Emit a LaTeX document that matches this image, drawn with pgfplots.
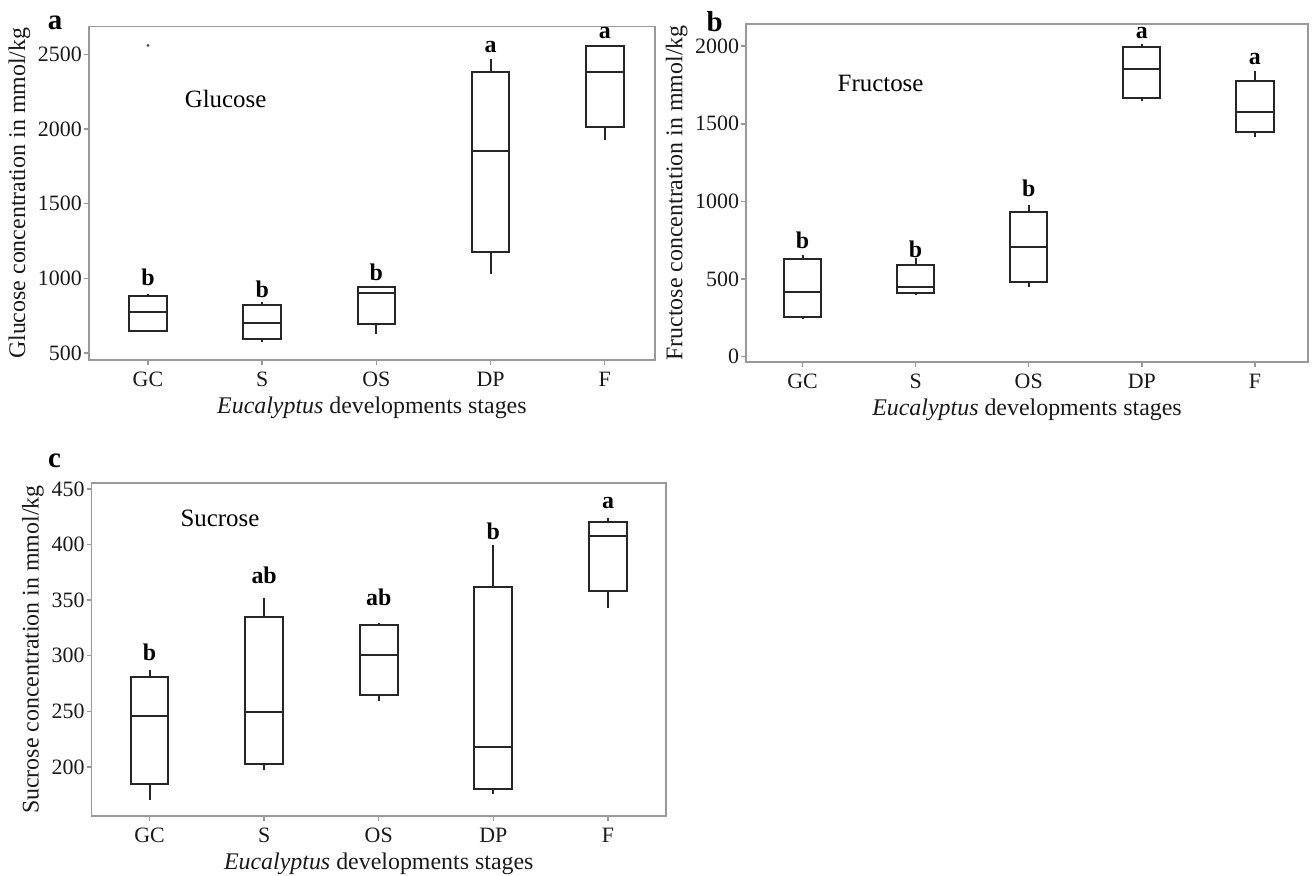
\documentclass[border=0pt]{standalone}
\usepackage{fontspec}
\setmainfont{Liberation Serif}
\usepackage{pgfplots}
\pgfplotsset{compat=1.18}
\usepgfplotslibrary{statistics}

\pgfplotsset{
  panel/.style={
    scale only axis,
    axis line style={draw=gray!80, line width=0.8bp},
    tick style={draw=gray!80, line width=0.7bp},
    tick align=outside,
    major tick length=2.5bp,
    tick pos=left,
    xtick={0,1,2,3,4},
    xticklabels={GC,S,OS,DP,F},
    tick label style={font=\fontsize{11}{13}\selectfont, text=black!90},
    yticklabel style={xshift=2.5bp},
    label style={font=\fontsize{12}{14}\selectfont, text=black!90},
    xlabel={\textit{Eucalyptus} developments stages},
    ylabel shift=-3bp,
    xlabel shift=-2bp,
    /pgf/number format/assume math mode=true,
    /pgf/number format/1000 sep={},
    boxplot/draw direction=y,
    clip=false,
  },
  bx/.style={draw=black!85, line width=1bp, solid, fill=none},
}
\tikzset{
  lt/.style={font=\fontsize{12}{14}\bfseries, text=black},
  tt/.style={font=\fontsize{12.5}{14}\selectfont, text=black},
}

\begin{document}
\begin{tikzpicture}[x=1bp,y=1bp]
\path[use as bounding box] (0,0) rectangle (657,438);

% ---------------- panel a ----------------
\begin{axis}[panel,
  at={(44.4bp,258bp)}, anchor=south west,
  width=283.1bp, height=166.75bp,
  xmin=-0.518, xmax=4.44, ymin=453, ymax=2688,
  ytick={500,1000,1500,2000,2500},
  ylabel={Glucose concentration in mmol/kg}]
\addplot[bx, boxplot prepared={draw position=0, lower whisker=638, lower quartile=649, median=772, upper quartile=884, upper whisker=893, box extend=0.33, whisker extend=0}] coordinates {};
\addplot[bx, boxplot prepared={draw position=1, lower whisker=574, lower quartile=594, median=698, upper quartile=822, upper whisker=844, box extend=0.33, whisker extend=0}] coordinates {};
\addplot[bx, boxplot prepared={draw position=2, lower whisker=627, lower quartile=696, median=902, upper quartile=942, upper whisker=942, box extend=0.33, whisker extend=0}] coordinates {};
\addplot[bx, boxplot prepared={draw position=3, lower whisker=1031, lower quartile=1177, median=1853, upper quartile=2380, upper whisker=2470, box extend=0.33, whisker extend=0}] coordinates {};
\addplot[bx, boxplot prepared={draw position=4, lower whisker=1929, lower quartile=2014, median=2380, upper quartile=2559, upper whisker=2559, box extend=0.33, whisker extend=0}] coordinates {};
\addplot[only marks, mark=*, mark size=0.5bp, black!70] coordinates {(0,2561)};
\node[lt] at (axis cs:0,1010) {b};
\node[lt] at (axis cs:1,924) {b};
\node[lt] at (axis cs:2,1038) {b};
\node[lt] at (axis cs:3,2549) {a};
\node[lt] at (axis cs:4,2646) {a};
\node[tt] at (axis cs:0.68,2204) {Glucose};
\end{axis}

% ---------------- panel b ----------------
\begin{axis}[panel,
  at={(373bp,257bp)}, anchor=south west,
  width=281bp, height=169bp,
  xmin=-0.50, xmax=4.47, ymin=-34, ymax=2143,
  ytick={0,500,1000,1500,2000},
  ylabel={Fructose concentration in mmol/kg}]
\addplot[bx, boxplot prepared={draw position=0, lower whisker=241, lower quartile=254, median=417, upper quartile=627, upper whisker=655, box extend=0.33, whisker extend=0}] coordinates {};
\addplot[bx, boxplot prepared={draw position=1, lower whisker=395, lower quartile=408, median=447, upper quartile=589, upper whisker=638, box extend=0.33, whisker extend=0}] coordinates {};
\addplot[bx, boxplot prepared={draw position=2, lower whisker=447, lower quartile=479, median=707, upper quartile=934, upper whisker=979, box extend=0.33, whisker extend=0}] coordinates {};
\addplot[bx, boxplot prepared={draw position=3, lower whisker=1645, lower quartile=1667, median=1856, upper quartile=1997, upper whisker=2015, box extend=0.33, whisker extend=0}] coordinates {};
\addplot[bx, boxplot prepared={draw position=4, lower whisker=1414, lower quartile=1446, median=1575, upper quartile=1774, upper whisker=1839, box extend=0.33, whisker extend=0}] coordinates {};
\node[lt] at (axis cs:0,747) {b};
\node[lt] at (axis cs:1,692) {b};
\node[lt] at (axis cs:2,1085) {b};
\node[lt] at (axis cs:3,2084) {a};
\node[lt] at (axis cs:4,1916) {a};
\node[tt] at (axis cs:0.69,1757) {Fructose};
\end{axis}

% ---------------- panel c ----------------
\begin{axis}[panel,
  at={(45.75bp,30bp)}, anchor=south west,
  width=287.25bp, height=166.35bp,
  xmin=-0.506, xmax=4.506, ymin=156, ymax=455,
  ytick={200,250,300,350,400,450},
  ylabel={Sucrose concentration in mmol/kg}]
\addplot[bx, boxplot prepared={draw position=0, lower whisker=170.6, lower quartile=185, median=245.9, upper quartile=281, upper whisker=287.5, box extend=0.33, whisker extend=0}] coordinates {};
\addplot[bx, boxplot prepared={draw position=1, lower whisker=197.6, lower quartile=202.7, median=249.2, upper quartile=335.2, upper whisker=352, box extend=0.33, whisker extend=0}] coordinates {};
\addplot[bx, boxplot prepared={draw position=2, lower whisker=259, lower quartile=264.8, median=301, upper quartile=327.4, upper whisker=329, box extend=0.33, whisker extend=0}] coordinates {};
\addplot[bx, boxplot prepared={draw position=3, lower whisker=176, lower quartile=180.2, median=218, upper quartile=361.6, upper whisker=399.7, box extend=0.33, whisker extend=0}] coordinates {};
\addplot[bx, boxplot prepared={draw position=4, lower whisker=343, lower quartile=358, median=407.2, upper quartile=419.8, upper whisker=423.4, box extend=0.33, whisker extend=0}] coordinates {};
\node[lt] at (axis cs:0,303.4) {b};
\node[lt] at (axis cs:1,372) {ab};
\node[lt] at (axis cs:2,352.6) {ab};
\node[lt] at (axis cs:3,412) {b};
\node[lt] at (axis cs:4,437.4) {a};
\node[tt] at (axis cs:0.615,423.4) {Sucrose};
\end{axis}

% panel letters
\node[font=\fontsize{14.5}{16}\bfseries] at (27.5,426.5) {a};
\node[font=\fontsize{14.5}{16}\bfseries] at (357.3,427) {b};
\node[font=\fontsize{14.5}{16}\bfseries] at (27.3,207.5) {c};
\end{tikzpicture}
\end{document}
